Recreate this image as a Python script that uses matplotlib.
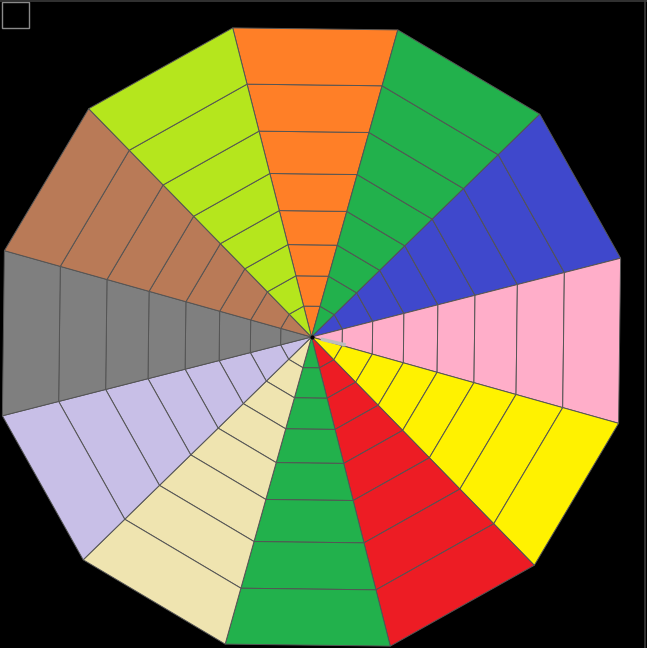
"""Twelve coloured wedges in a dodecagon, each split into eight bands."""

import numpy as np
import matplotlib
matplotlib.use('Agg')
from matplotlib import pyplot as plt
from matplotlib.patches import Polygon, Rectangle
from matplotlib.lines import Line2D

# wedge colours, clockwise from the top
wedge_colors = ['#FF7F27', '#22B14C', '#3F48CC', '#FFAEC9', '#FFF200', '#ED1C24',
                '#22B14C', '#EFE4B0', '#C8BFE7', '#7F7F7F', '#B97A57', '#B5E61D']
# centre angle of each wedge (degrees, counter-clockwise from east)
wedge_angles = [90, 60, 30, 0, -30, -60, -90, -120, -150, 180, 150, 120]
wedge_width = 30
# band boundaries, as a fraction of the outer radius
band_edges = [0.0, 0.10, 0.198, 0.299, 0.409, 0.529, 0.666, 0.818, 1.0]
# short light grey stroke near the centre (angle, start, end)
stroke = [-13.0, 0.03, 0.11]

W, H = 647, 648
cx, cy, R = 311.5, 337.0, 319.0
tilt = -0.7  # the whole figure is turned very slightly clockwise

fig = plt.figure(figsize=(W / 100, H / 100), dpi=100, facecolor='black')
ax = fig.add_axes([0, 0, 1, 1])
ax.set_facecolor('black')
ax.set_xlim(-cx / R, (W - cx) / R)
ax.set_ylim(-(H - cy) / R, cy / R)
ax.set_aspect('equal')
ax.axis('off')

for color, mid in zip(wedge_colors, wedge_angles):
    t0 = np.radians(mid + tilt - wedge_width / 2)
    t1 = np.radians(mid + tilt + wedge_width / 2)
    for r_in, r_out in zip(band_edges[:-1], band_edges[1:]):
        pts = [(r_in * np.cos(t0), r_in * np.sin(t0)),
               (r_out * np.cos(t0), r_out * np.sin(t0)),
               (r_out * np.cos(t1), r_out * np.sin(t1)),
               (r_in * np.cos(t1), r_in * np.sin(t1))]
        ax.add_patch(Polygon(pts, closed=True, facecolor=color,
                             edgecolor='#555555', linewidth=0.7))

# light grey stroke
a = np.radians(stroke[0])
ax.plot([stroke[1] * np.cos(a), stroke[2] * np.cos(a)],
        [stroke[1] * np.sin(a), stroke[2] * np.sin(a)],
        color='#bdbdbd', linewidth=2.5, solid_capstyle='butt')
ax.plot([0], [0], marker='o', markersize=2, color='black')

# empty box in the top-left corner
fig.patches.append(Rectangle((2 / W, 1 - 28 / H), 27 / W, 26 / H,
                             transform=fig.transFigure, fill=False,
                             edgecolor='#8a8a8a', linewidth=1))
# frame lines at the top and right
fig.lines.append(Line2D([0, 1], [1 - 0.5 / H, 1 - 0.5 / H],
                        transform=fig.transFigure, color='#3a3a3a', linewidth=1.2))
fig.lines.append(Line2D([1 - 2.5 / W, 1 - 2.5 / W], [0, 1],
                        transform=fig.transFigure, color='#3a3a3a', linewidth=1.2))

fig.savefig('out.png', dpi=100, facecolor='black')
